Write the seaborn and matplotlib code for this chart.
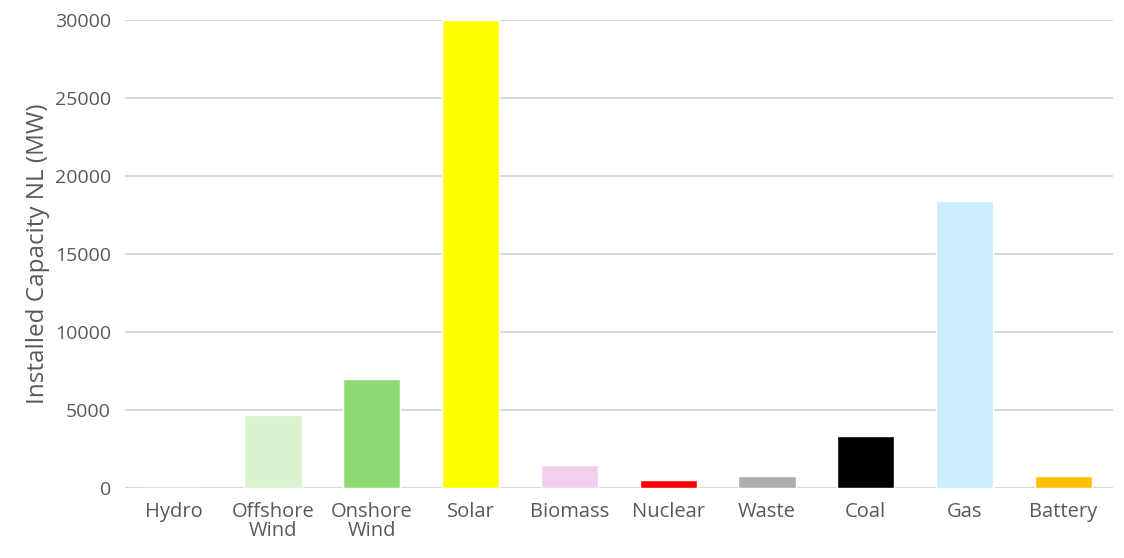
import matplotlib
matplotlib.use("Agg")
import matplotlib.pyplot as plt
import seaborn as sns
import pandas as pd

# installed capacity NL
categories = ['Hydro', 'Offshore\nWind', 'Onshore\nWind', 'Solar', 'Biomass',
              'Nuclear', 'Waste', 'Coal', 'Gas', 'Battery']
capacity_mw = [37, 4720, 6980, 30000, 1500, 500, 800, 3380, 18380, 800]
colors = ['#0070c0', '#d9f2d0', '#8ed973', '#ffff00', '#f2ceef',
          '#ff0000', '#adadad', '#000000', '#caeefb', '#ffc000']

df = pd.DataFrame({'cat': categories, 'mw': capacity_mw})

sns.set_style('white')
plt.rcParams['font.family'] = ['Open Sans', 'DejaVu Sans']
txt = '#595959'

fig = plt.figure(figsize=(11.24, 5.58), dpi=100)
ax = fig.add_axes([0.111, 0.125, 0.879, 0.839])
sns.barplot(data=df, x='cat', y='mw', hue='cat', palette=dict(zip(categories, colors)),
            legend=False, width=0.58, saturation=1, ax=ax, zorder=3)

ax.set_ylim(0, 30000)
ax.set_xlim(-0.5, 9.5)
ax.set_yticks(range(0, 30001, 5000))
ax.yaxis.grid(True, color='#d9d9d9', linewidth=1.5, zorder=0)
ax.set_axisbelow(True)
for s in ax.spines.values():
    s.set_visible(False)
ax.axhline(0, color='#d9d9d9', linewidth=1.5, zorder=1)
ax.tick_params(axis='both', length=0, labelsize=14, colors=txt, pad=10)
ax.tick_params(axis='x', labelsize=14.5, pad=10)
for lab in ax.get_xticklabels():
    lab.set_linespacing(0.95)
ax.set_xlabel('')
ax.set_ylabel('Installed Capacity NL (MW)', fontsize=17.5, color=txt, labelpad=3)

fig.savefig('out.png', dpi=100)
